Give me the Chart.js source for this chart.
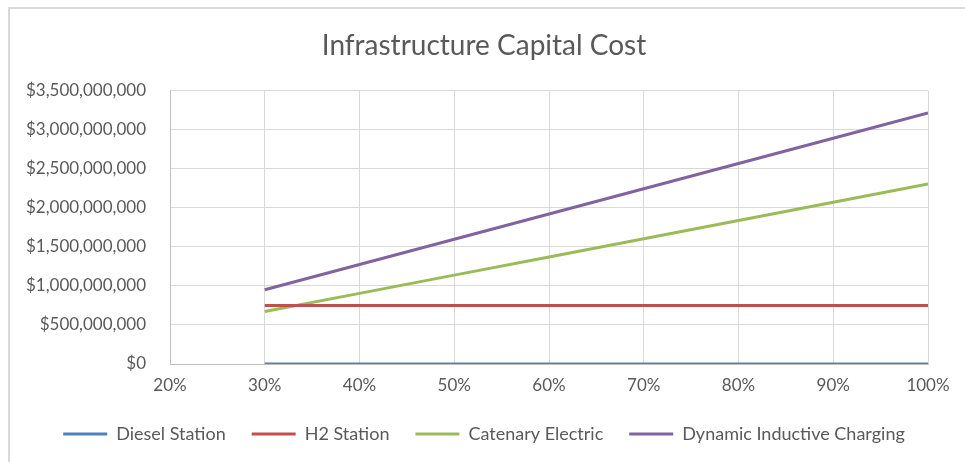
<!DOCTYPE html>
<html>
<head>
<meta charset="utf-8">
<script src="https://cdn.jsdelivr.net/npm/chart.js@4/dist/chart.umd.min.js"></script>
<style>
  body { margin: 0; background: #fff; }
  #wrap { position: relative; width: 965px; height: 462px; overflow: hidden; }
  #frame { position: absolute; left: 8px; top: 7px; width: 1000px; height: 500px;
           border-left: 2px solid #d9d9d9; border-top: 2px solid #d9d9d9; pointer-events: none; }
</style>
</head>
<body>
<div id="wrap">
  <canvas id="myCanvas" width="965" height="462"></canvas>
  <div id="frame"></div>
</div>
<script>
// penetration share (%)
const shares = [30, 40, 50, 60, 70, 80, 90, 100];

// capital cost in dollars
const dieselStation = [0, 0, 0, 0, 0, 0, 0, 0];
const h2Station = [750e6, 750e6, 750e6, 750e6, 750e6, 750e6, 750e6, 750e6];
const catenaryElectric = [671e6, 904e6, 1138e6, 1371e6, 1604e6, 1837e6, 2071e6, 2304e6];
const dynamicInductive = [950e6, 1273e6, 1597e6, 1920e6, 2243e6, 2567e6, 2890e6, 3214e6];

const seriesNames = ["Diesel Station", "H2 Station", "Catenary Electric", "Dynamic Inductive Charging"];
const seriesValues = [dieselStation, h2Station, catenaryElectric, dynamicInductive];
const seriesColors = ["#4f81bd", "#c0504d", "#9bbb59", "#8064a2"];

const font = "Lato, 'Open Sans', sans-serif";
const textColor = "#595959";

const ctx = document.getElementById("myCanvas").getContext("2d");
new Chart(ctx, {
  type: "line",
  data: {
    datasets: seriesNames.map((name, i) => ({
      label: name,
      data: shares.map((s, j) => ({ x: s, y: seriesValues[i][j] })),
      borderColor: seriesColors[i],
      backgroundColor: seriesColors[i],
      borderWidth: 3,
      pointRadius: 0,
      tension: 0,
    })),
  },
  options: {
    responsive: false,
    animation: false,
    layout: { padding: { left: 3, right: 0, top: 0, bottom: 9 } },
    plugins: {
      title: {
        display: true,
        text: "Infrastructure Capital Cost",
        color: textColor,
        font: { family: font, size: 28, weight: "normal" },
        padding: { top: 29, bottom: 28 },
      },
      legend: {
        position: "bottom",
        labels: {
          color: textColor,
          font: { family: font, size: 18 },
          usePointStyle: true,
          pointStyle: "line",
          pointStyleWidth: 44,
          padding: 26,
        },
      },
      tooltip: { enabled: false },
    },
    scales: {
      x: {
        type: "linear",
        min: 20,
        max: 100,
        ticks: {
          stepSize: 10,
          color: textColor,
          font: { family: font, size: 17 },
          padding: 11,
          callback: (v) => v + "%",
        },
        grid: { color: "#d9d9d9", drawTicks: false },
        border: { color: "#bfbfbf" },
        afterFit: (s) => { s.height = 35; },
      },
      y: {
        min: 0,
        max: 3500000000,
        ticks: {
          stepSize: 500000000,
          color: textColor,
          font: { family: font, size: 17 },
          padding: 24,
          callback: (v) => "$" + v.toLocaleString("en-US"),
        },
        grid: { color: "#d9d9d9", drawTicks: false },
        border: { color: "#bfbfbf" },
        afterFit: (s) => { s.width = 167; },
      },
      // empty right-hand axis, only reserves the margin beside the plot
      yRight: {
        position: "right",
        ticks: { display: false },
        grid: { display: false },
        border: { display: false },
        afterFit: (s) => { s.width = 37; },
      },
    },
  },
});
</script>
</body>
</html>
